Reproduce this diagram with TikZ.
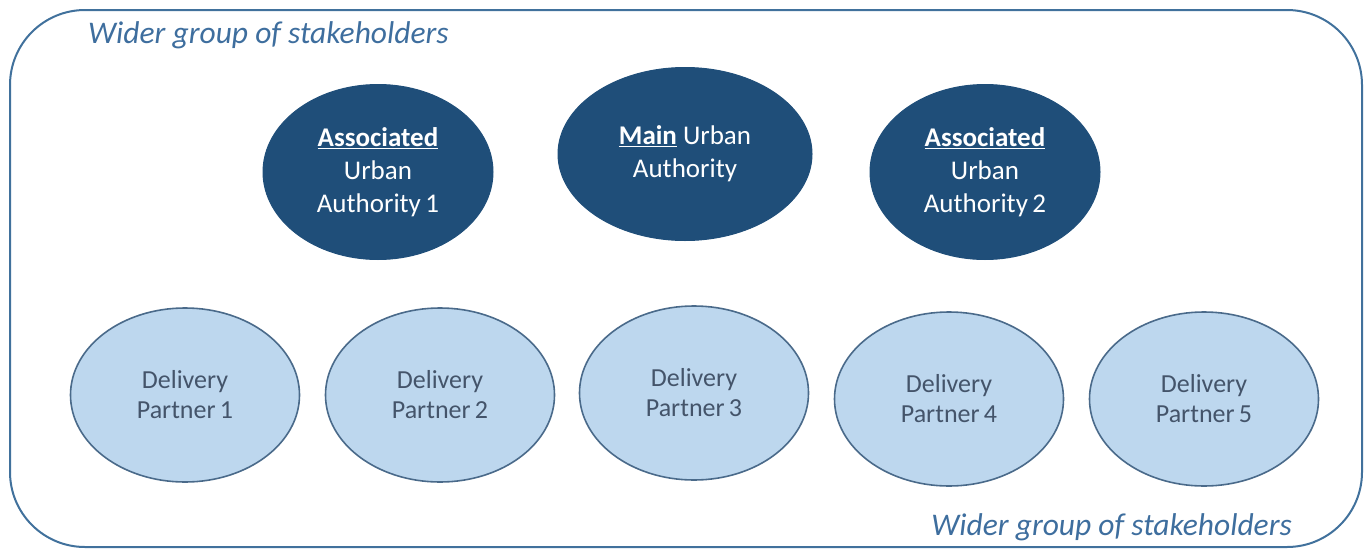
\documentclass[tikz,border=0pt]{standalone}
\usepackage{fontspec}
\setmainfont{Carlito}
\usetikzlibrary{shapes.geometric}
\definecolor{darkfill}{HTML}{1F4E79}
\definecolor{lightfill}{HTML}{BDD7EE}
\definecolor{lightedge}{HTML}{4A6A8A}
\definecolor{frameedge}{HTML}{41719C}
\definecolor{labelblue}{HTML}{3E6E9E}
\definecolor{greytext}{HTML}{44546A}
\tikzset{
  authority/.style={ellipse, fill=darkfill, draw=darkfill, line width=1pt, inner sep=0pt,
    minimum width=230pt, minimum height=175pt, text=white, align=center,
    font=\fontsize{27}{33}\selectfont},
  partner/.style={ellipse, fill=lightfill, draw=lightedge, line width=1.6pt, inner sep=0pt,
    minimum width=229pt, minimum height=174pt, text=greytext, align=center,
    font=\fontsize{26}{30}\selectfont},
  widerlabel/.style={text=labelblue, font=\fontsize{31.5}{36}\selectfont\itshape, inner sep=0pt},
  frame/.style={draw=frameedge, line width=2pt, rounded corners=75pt, inner sep=0pt,
    minimum width=1352pt, minimum height=537pt}
}
\begin{document}
\begin{tikzpicture}[x=1pt,y=-1pt]
\useasboundingbox (0,0) rectangle (1368,549);
\node[frame] (frame) at (686,278.5) {};
\node[widerlabel, anchor=west] (toplabel) at (88,35) {Wider group of stakeholders};
\node[widerlabel, anchor=east] (bottomlabel) at (1292,527) {Wider group of stakeholders};

\node[authority] (assoc1) at (378,172) {\textbf{\underline{Associated}}\\Urban\\Authority\,1};
\node[authority, minimum width=254pt, minimum height=173pt] (main) at (685,154) {\textbf{\underline{Main}} Urban\\Authority};
\node[authority] (assoc2) at (985,172) {\textbf{\underline{Associated}}\\Urban\\Authority\,2};

\node[partner] (dp1) at (185,395) {Delivery\\Partner\,1};
\node[partner] (dp2) at (440,395) {Delivery\\Partner\,2};
\node[partner] (dp3) at (694,393) {Delivery\\Partner\,3};
\node[partner] (dp4) at (949,399) {Delivery\\Partner\,4};
\node[partner] (dp5) at (1204,399) {Delivery\\Partner\,5};
\end{tikzpicture}
\end{document}
